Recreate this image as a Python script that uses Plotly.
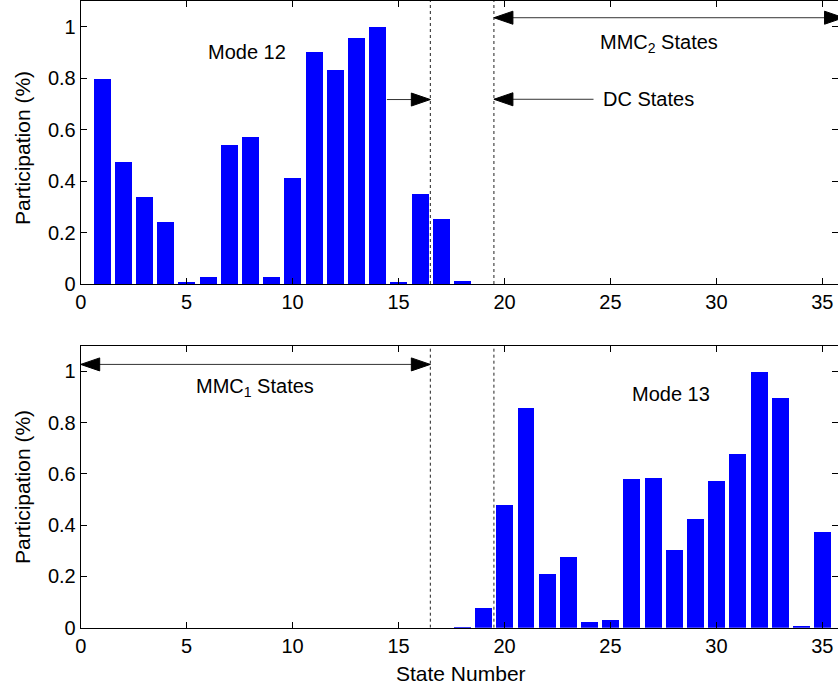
import plotly.graph_objects as go

states = list(range(1, 36))
mode12 = [0.795, 0.475, 0.339, 0.242, 0.004, 0.027, 0.542, 0.573, 0.027, 0.413,
          0.900, 0.830, 0.958, 1.000, 0.004, 0.351, 0.253, 0.012, 0, 0,
          0, 0, 0, 0, 0, 0, 0, 0, 0, 0,
          0, 0, 0, 0, 0]
mode13 = [0, 0, 0, 0, 0, 0, 0, 0, 0, 0,
          0, 0, 0, 0, 0, 0, 0, 0.003, 0.078, 0.480,
          0.859, 0.210, 0.276, 0.022, 0.030, 0.581, 0.585, 0.304, 0.425, 0.574,
          0.679, 1.000, 0.898, 0.007, 0.374]
xticks = [0, 5, 10, 15, 20, 25, 30, 35]
yticks = [0, 0.2, 0.4, 0.6, 0.8, 1]
yticklabels = ["0", "0.2", "0.4", "0.6", "0.8", "1"]
boundaries = [16.5, 19.5]

W, H = 838, 690
FONT = "Liberation Sans, Arial, sans-serif"
BLUE = "#0000FF"

# geometry (pixels)
X0PX = 80.7
XUNIT = 21.19
YUNIT = 256.5
TOP_BASE, TOP_TOP = 284.0, 1.0
BOT_BASE, BOT_TOP = 627.7, 345.7

fig = go.Figure()
fig.add_trace(go.Bar(x=states, y=mode12, width=0.8, marker=dict(color=BLUE, line_width=0),
                     xaxis="x", yaxis="y", showlegend=False))
fig.add_trace(go.Bar(x=states, y=mode13, width=0.8, marker=dict(color=BLUE, line_width=0),
                     xaxis="x2", yaxis="y2", showlegend=False))

xdom = [X0PX / W, 1.0]
top_dom = [(H - TOP_BASE) / H, (H - TOP_TOP) / H]
bot_dom = [(H - BOT_BASE) / H, (H - BOT_TOP) / H]
xr = [0, (W - X0PX) / XUNIT]

def xa(anchor):
    return dict(domain=xdom, range=xr, tickvals=xticks, ticks="inside", ticklen=6,
                tickcolor="black", showline=True, linecolor="black", linewidth=1,
                mirror="ticks", showgrid=False, zeroline=False, anchor=anchor,
                automargin=False,
                tickfont=dict(family=FONT, size=20, color="black"))

def ya(dom, anchor):
    return dict(domain=dom, range=[0, 1.1], tickvals=yticks, ticktext=yticklabels,
                ticks="inside", ticklen=6, tickcolor="black", showline=True,
                linecolor="black", linewidth=1, mirror="ticks", showgrid=False,
                zeroline=False, anchor=anchor, automargin=False,
                tickfont=dict(family=FONT, size=20, color="black"))

fig.update_layout(
    width=W, height=H, margin=dict(l=0, r=0, t=0, b=0, pad=0, autoexpand=False),
    paper_bgcolor="white", plot_bgcolor="white",
    xaxis=xa("y"), yaxis=ya(top_dom, "x"),
    xaxis2=xa("y2"), yaxis2=ya(bot_dom, "x2"),
    bargap=0, font=dict(family=FONT, size=20, color="black"),
)

shapes = []
for xref, yref in (("x", "y"), ("x2", "y2")):
    for b in boundaries:
        shapes.append(dict(type="line", xref=xref, yref=yref, x0=b, x1=b, y0=0, y1=1.1,
                           line=dict(color="#222222", width=1, dash="dot")))

HEAD_LEN = 19.0 / XUNIT      # arrow head length in x data units
HEAD_HALF = 6.5 / YUNIT      # arrow head half height in y data units

def head(xref, yref, xtip, y, direction):
    xb = xtip - direction * HEAD_LEN
    shapes.append(dict(type="path", xref=xref, yref=yref,
                       path=f"M {xtip},{y} L {xb},{y + HEAD_HALF} L {xb},{y - HEAD_HALF} Z",
                       fillcolor="black", line=dict(color="black", width=1)))

def arrow(xref, yref, x_from, x_to, y, both=False):
    shapes.append(dict(type="line", xref=xref, yref=yref, x0=x_from, x1=x_to, y0=y, y1=y,
                       line=dict(color="#333333", width=1)))
    d = 1 if x_to > x_from else -1
    head(xref, yref, x_to, y, d)
    if both:
        head(xref, yref, x_from, y, -d)

arrow("x", "y", 14.45, 16.5, 0.717)
arrow("x", "y", 24.2, 19.5, 0.718)
arrow("x", "y", 19.5, 36.0, 1.035, both=True)
arrow("x2", "y2", 0.0, 16.5, 1.027, both=True)
fig.update_layout(shapes=shapes)

ann = []
def label(xref, yref, x, y, text, size=20):
    ann.append(dict(xref=xref, yref=yref, x=x, y=y, text=text, showarrow=False,
                    font=dict(family=FONT, size=size, color="black"),
                    xanchor="center", yanchor="middle"))

label("x", "y", 7.85, 0.902, "Mode 12")
label("x", "y", 27.3, 0.935, "MMC<sub>2</sub> States")
label("x", "y", 26.8, 0.72, "DC States")
label("x2", "y2", 8.22, 0.936, "MMC<sub>1</sub> States")
label("x2", "y2", 27.84, 0.913, "Mode 13")

ann.append(dict(xref="paper", yref="paper", x=461 / W, y=(H - 673) / H, text="State Number",
                showarrow=False, font=dict(family=FONT, size=21, color="black"),
                xanchor="center", yanchor="middle"))
for yc in (148, 487):
    ann.append(dict(xref="paper", yref="paper", x=22 / W, y=(H - yc) / H,
                    text="Participation (%)", textangle=-90, showarrow=False,
                    font=dict(family=FONT, size=21, color="black"),
                    xanchor="center", yanchor="middle"))
fig.update_layout(annotations=ann)

fig.write_html("out.html", config={"displayModeBar": False},
               post_script="document.body.style.margin='0';document.body.style.overflow='hidden';")
